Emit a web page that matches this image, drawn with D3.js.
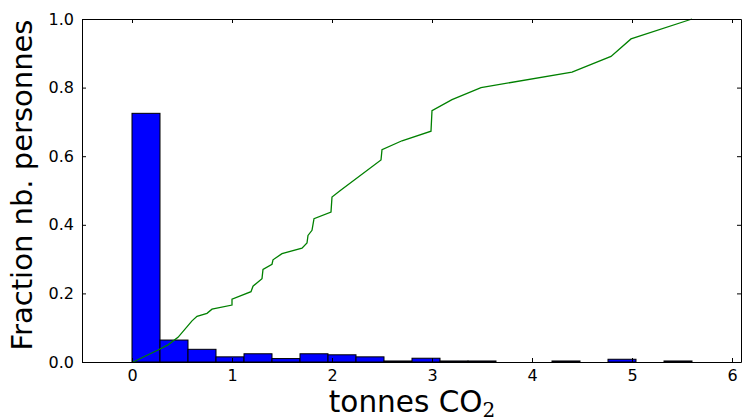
<!DOCTYPE html>
<html>
<head>
<meta charset="utf-8">
<script src="https://cdn.jsdelivr.net/npm/d3@7"></script>
<style>
  body { margin: 0; background: #fff; }
  svg { display: block; }
  text { font-family: "DejaVu Sans", sans-serif; fill: #000; }
</style>
</head>
<body>
<svg id="chart" width="742" height="420"></svg>
<script>
//
// Data
//

// histogram: bins of 0.28 t starting at 0
var binStart = 0;
var binWidth = 0.28;
var binFractions = [0.725, 0.064, 0.037, 0.015, 0.024, 0.010, 0.024, 0.021, 0.015, 0.003,
  0.011, 0.003, 0.003, 0, 0, 0.003, 0, 0.008, 0, 0.003];

// cumulative curve (green)
var cumX = [0.01, 0.26, 0.36, 0.46, 0.6, 0.65, 0.75, 0.8, 1.0, 1.0, 1.19, 1.21, 1.30, 1.31,
  1.40, 1.41, 1.50, 1.70, 1.75, 1.76, 1.80, 1.82, 1.99, 2.00, 2.08, 2.49, 2.50, 2.70,
  2.99, 3.00, 3.20, 3.49, 4.40, 4.79, 4.99, 5.6];
var cumY = [0, 0.035, 0.05, 0.072, 0.12, 0.133, 0.142, 0.154, 0.166, 0.183, 0.205, 0.221,
  0.243, 0.27, 0.285, 0.298, 0.316, 0.332, 0.347, 0.369, 0.384, 0.418, 0.437, 0.481,
  0.499, 0.589, 0.619, 0.645, 0.673, 0.733, 0.765, 0.80, 0.845, 0.891, 0.942, 1.0];

var xTicks = [0, 1, 2, 3, 4, 5, 6];
var yTicks = [0, 0.2, 0.4, 0.6, 0.8, 1.0];

//
// Layout
//
// (don't call it "top", that's window.top)
var plotLeft = 82, plotRight = 741, plotTop = 19, plotBottom = 362;
var tickLen = 4;
var tickFont = 16;
var labelFont = 29.5;

var svg = d3.select("#chart");
var x = d3.scaleLinear().domain([-0.5, 6.09]).range([plotLeft, plotRight]);
var y = d3.scaleLinear().domain([0, 1]).range([plotBottom, plotTop]);

// bars
var bins = binFractions.map(function(v, i) {
  return { x0: binStart + i * binWidth, x1: binStart + (i + 1) * binWidth, v: v };
});
svg.append("g")
  .selectAll("rect")
  .data(bins.filter(function(b) { return b.v > 0; }))
  .join("rect")
  .attr("x", function(b) { return x(b.x0); })
  .attr("y", function(b) { return y(b.v); })
  .attr("width", function(b) { return x(b.x1) - x(b.x0); })
  .attr("height", function(b) { return y(0) - y(b.v); })
  .attr("fill", "#0000ff")
  .attr("stroke", "#000")
  .attr("stroke-width", 1);

// cumulative line
var line = d3.line()
  .x(function(d) { return x(d[0]); })
  .y(function(d) { return y(d[1]); });
svg.append("path")
  .datum(d3.zip(cumX, cumY))
  .attr("d", line)
  .attr("fill", "none")
  .attr("stroke", "#008000")
  .attr("stroke-width", 1.3);

// axes (classic matplotlib: ticks pointing inward on all four sides)
svg.append("g")
  .attr("transform", "translate(0," + plotBottom + ")")
  .call(d3.axisBottom(x).tickValues(xTicks).tickSizeInner(-tickLen).tickSizeOuter(0)
    .tickPadding(8).tickFormat(d3.format("d")))
  .call(styleAxis);
svg.append("g")
  .attr("transform", "translate(0," + plotTop + ")")
  .call(d3.axisTop(x).tickValues(xTicks).tickSizeInner(-tickLen).tickSizeOuter(0)
    .tickFormat(""))
  .call(styleAxis);
svg.append("g")
  .attr("transform", "translate(" + plotLeft + ",0)")
  .call(d3.axisLeft(y).tickValues(yTicks).tickSizeInner(-tickLen).tickSizeOuter(0)
    .tickPadding(8).tickFormat(d3.format(".1f")))
  .call(styleAxis);
svg.append("g")
  .attr("transform", "translate(" + plotRight + ",0)")
  .call(d3.axisRight(y).tickValues(yTicks).tickSizeInner(-tickLen).tickSizeOuter(0)
    .tickFormat(""))
  .call(styleAxis);

function styleAxis(g) {
  g.attr("font-size", tickFont).attr("font-family", "DejaVu Sans, sans-serif");
  g.select(".domain").attr("stroke", "#000").attr("stroke-width", 1);
  g.selectAll(".tick line").attr("stroke", "#000").attr("stroke-width", 1);
  g.selectAll(".tick text").attr("fill", "#000");
}

// axis labels
svg.append("text")
  .attr("transform", "translate(32,185) rotate(-90)")
  .attr("text-anchor", "middle")
  .attr("font-size", 29)
  .text("Fraction nb. personnes");

var xl = svg.append("text")
  .attr("x", x(2.8))
  .attr("y", 412)
  .attr("text-anchor", "middle")
  .attr("font-size", labelFont);
xl.append("tspan").text("tonnes CO");
xl.append("tspan")
  .attr("font-family", "DejaVu Serif, serif")
  .attr("font-size", 20)
  .attr("dy", 5)
  .text("2");
</script>
</body>
</html>
